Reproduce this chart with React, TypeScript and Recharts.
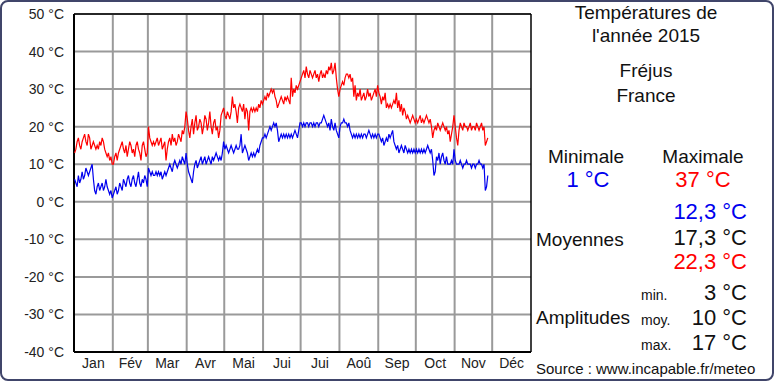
import { LineChart, Line, XAxis, YAxis, CartesianGrid, ReferenceLine } from "recharts"

const MONTHS = ["Jan", "Fév", "Mar", "Avr", "Mai", "Jui", "Jui", "Aoû", "Sep", "Oct", "Nov", "Déc"]
const MONTH_START = [0, 31, 59, 90, 120, 151, 181, 212, 243, 273, 304, 334, 365]
const Y_TICKS = [-40, -30, -20, -10, 0, 10, 20, 30, 40, 50]

// daily maximum, one row per month (Jan 1 -> Nov 27)
const T_MAX = [
    13, 14, 16, 17, 15, 14, 16, 17, 18, 16, 15, 18, 17, 14, 15, 16, 15, 14, 15, 14, 16, 15, 17, 16, 14, 13, 12, 13, 11, 12, 10,
    10, 12, 13, 11, 13, 14, 15, 16, 14, 13, 15, 12, 14, 16, 15, 13, 14, 12, 15, 16, 14, 13, 11, 15, 16, 14, 12, 13,
    20, 17, 16, 15, 16, 15, 16, 17, 15, 16, 17, 14, 15, 16, 11, 14, 16, 17, 15, 18, 16, 17, 15, 16, 18, 17, 16, 19, 18, 20, 24,
    22, 19, 17, 20, 22, 18, 21, 23, 19, 20, 22, 21, 18, 20, 23, 22, 19, 21, 24, 20, 18, 21, 22, 19, 20, 17, 19, 23, 24, 25,
    23, 22, 24, 23, 22, 24, 28, 25, 26, 24, 21, 25, 26, 25, 24, 26, 22, 25, 24, 19, 24, 25, 24, 25, 24, 25, 24, 26, 25, 27, 26,
    27, 28, 27, 29, 28, 29, 30, 29, 30, 28, 27, 25, 26, 27, 28, 27, 26, 28, 27, 28, 27, 26, 33, 28, 30, 29, 31, 30, 31, 32,
    33, 34, 35, 33, 36, 34, 33, 35, 34, 33, 34, 35, 33, 34, 32, 34, 35, 33, 34, 33, 35, 34, 36, 35, 37, 34, 35, 37, 33, 30, 28,
    30, 31, 32, 31, 33, 34, 34, 33, 34, 32, 33, 28, 31, 27, 29, 28, 30, 27, 28, 29, 27, 28, 30, 28, 29, 27, 28, 29, 30, 28, 31,
    29, 28, 26, 28, 27, 29, 25, 26, 25, 26, 25, 26, 27, 26, 29, 25, 27, 24, 26, 23, 25, 24, 22, 23, 22, 21, 22, 23, 22, 21,
    22, 21, 22, 23, 21, 22, 21, 22, 23, 22, 21, 22, 20, 17, 19, 20, 19, 21, 20, 19, 20, 21, 20, 19, 20, 18, 19, 16, 18, 20, 23,
    20, 17, 15, 19, 21, 20, 19, 21, 20, 20, 19, 20, 21, 19, 20, 20, 19, 21, 20, 19, 20, 21, 19, 20, 15, 16, 17,
]

// daily minimum
const T_MIN = [
    6, 5, 4, 7, 5, 6, 8, 6, 7, 9, 8, 7, 8, 9, 10, 6, 3, 2, 4, 5, 3, 4, 5, 3, 4, 6, 4, 3, 2, 3, 1,
    2, 3, 4, 2, 3, 5, 4, 3, 6, 5, 4, 6, 7, 5, 4, 6, 7, 5, 4, 6, 8, 5, 4, 6, 5, 7, 6, 4,
    9, 8, 7, 8, 7, 7, 8, 7, 8, 7, 8, 6, 7, 8, 7, 8, 9, 10, 9, 8, 10, 11, 10, 9, 10, 11, 10, 12, 11, 10, 13,
    10, 8, 7, 6, 5, 8, 10, 11, 9, 10, 11, 12, 10, 11, 12, 10, 11, 12, 11, 10, 12, 11, 12, 13, 12, 11, 12, 11, 13, 16,
    14, 15, 14, 13, 14, 15, 14, 13, 14, 15, 14, 14, 15, 18, 13, 14, 15, 14, 13, 11, 12, 13, 12, 13, 12, 13, 14, 13, 15, 16, 17,
    17, 18, 17, 18, 19, 20, 19, 20, 21, 20, 21, 19, 16, 17, 18, 17, 18, 17, 18, 17, 18, 17, 18, 17, 18, 19, 18, 17, 19, 21,
    21, 20, 21, 20, 21, 21, 20, 21, 21, 20, 21, 20, 21, 21, 20, 21, 21, 22, 23, 22, 21, 20, 21, 19, 22, 20, 19, 21, 19, 18, 17,
    20, 21, 21, 22, 21, 21, 20, 21, 19, 18, 17, 18, 17, 18, 17, 18, 17, 18, 17, 18, 18, 17, 18, 19, 18, 17, 18, 17, 18, 17, 18,
    18, 17, 16, 17, 15, 16, 17, 16, 18, 17, 18, 19, 16, 15, 14, 15, 13, 14, 15, 14, 13, 15, 14, 13, 14, 13, 14, 13, 14, 13,
    14, 13, 14, 13, 14, 13, 14, 13, 14, 15, 14, 13, 14, 11, 7, 8, 12, 11, 13, 10, 12, 13, 11, 10, 12, 10, 10, 10, 11, 10, 14,
    11, 10, 10, 10, 11, 10, 9, 10, 10, 11, 10, 10, 10, 9, 10, 10, 9, 10, 10, 11, 10, 10, 9, 10, 3, 4, 7,
]

const data = T_MAX.map((hi, i) => ({ day: i + 0.5, hi, lo: T_MIN[i] }))
const midTicks = MONTHS.map((_, i) => (MONTH_START[i] + MONTH_START[i + 1]) / 2)

const FONT = "'Liberation Sans', Arial, sans-serif"
const GRID = "#9a9a9a"

const Txt = ({ x, y, size, color = "#111", children, align = "left", w }: any) => (
    <div
        style={{
            position: "absolute",
            left: x,
            top: y,
            width: w,
            fontSize: size,
            lineHeight: `${size}px`,
            color,
            textAlign: align,
            whiteSpace: "nowrap",
        }}
    >
        {children}
    </div>
)

export default function App() {
    return (
        <div
            style={{
                position: "absolute",
                left: 0,
                top: 0,
                width: 774,
                height: 381,
                background: "#fff",
                fontFamily: FONT,
                overflow: "hidden",
            }}
        >
            <div
                style={{
                    position: "absolute",
                    left: 0,
                    top: 0,
                    width: 774,
                    height: 381,
                    boxSizing: "border-box",
                    border: "2px solid #40456a",
                    borderRadius: 8,
                }}
            />
            <LineChart width={774} height={381} data={data} margin={{ top: 14, right: 243, bottom: 0, left: 0 }}>
                <CartesianGrid vertical={false} stroke={GRID} strokeWidth={2} />
                {MONTH_START.slice(1, 12).map((m) => (
                    <ReferenceLine key={m} x={m} stroke={GRID} strokeWidth={2} />
                ))}
                <ReferenceLine x={0} stroke="#000" strokeWidth={2} />
                <ReferenceLine x={365} stroke="#000" strokeWidth={1.5} />
                <ReferenceLine y={50} stroke="#000" strokeWidth={1.5} />
                <ReferenceLine y={-40} stroke="#000" strokeWidth={2} />
                <XAxis
                    type="number"
                    dataKey="day"
                    domain={[0, 365]}
                    ticks={midTicks}
                    interval={0}
                    height={29}
                    tickSize={0}
                    tickMargin={6}
                    axisLine={false}
                    tickLine={false}
                    tickFormatter={(v: number) => MONTHS[midTicks.indexOf(v)]}
                    tick={{ fontSize: 14, fill: "#222", fontFamily: FONT }}
                />
                <YAxis
                    type="number"
                    domain={[-40, 50]}
                    ticks={Y_TICKS}
                    width={74}
                    tickSize={0}
                    tickMargin={10}
                    axisLine={false}
                    tickLine={false}
                    tickFormatter={(v: number) => `${v} °C`}
                    tick={{ fontSize: 14, fill: "#222", fontFamily: FONT }}
                />
                <Line dataKey="hi" stroke="#ff0000" strokeWidth={1.2} dot={false} isAnimationActive={false} />
                <Line dataKey="lo" stroke="#0000ee" strokeWidth={1.2} dot={false} isAnimationActive={false} />
            </LineChart>

            <Txt x={546} y={2.5} w={200} size={19} align="center">Températures de</Txt>
            <Txt x={546} y={26} w={200} size={19} align="center">l'année 2015</Txt>
            <Txt x={546} y={61} w={200} size={19} align="center">Fréjus</Txt>
            <Txt x={546} y={86} w={200} size={19} align="center">France</Txt>

            <Txt x={536} y={146.5} w={100} size={19} align="center">Minimale</Txt>
            <Txt x={653} y={146.5} w={100} size={19} align="center">Maximale</Txt>
            <Txt x={538} y={169} w={100} size={22} align="center" color="#0000ee">1 °C</Txt>
            <Txt x={653} y={169} w={100} size={22} align="center" color="#ff0000">37 °C</Txt>

            <Txt x={627} y={201} w={120} size={22} align="right" color="#0000ee">12,3 °C</Txt>
            <Txt x={627} y={226.5} w={120} size={22} align="right">17,3 °C</Txt>
            <Txt x={627} y={250.5} w={120} size={22} align="right" color="#ff0000">22,3 °C</Txt>
            <Txt x={536} y={229.5} size={19}>Moyennes</Txt>

            <Txt x={641} y={288} size={14}>min.</Txt>
            <Txt x={677} y={282} w={70} size={22} align="right">3 °C</Txt>
            <Txt x={536} y={308} size={19}>Amplitudes</Txt>
            <Txt x={641} y={313} size={14}>moy.</Txt>
            <Txt x={677} y={307} w={70} size={22} align="right">10 °C</Txt>
            <Txt x={641} y={337.5} size={14}>max.</Txt>
            <Txt x={677} y={332} w={70} size={22} align="right">17 °C</Txt>

            <Txt x={536} y={360.5} size={15}>Source : www.incapable.fr/meteo</Txt>
        </div>
    )
}
